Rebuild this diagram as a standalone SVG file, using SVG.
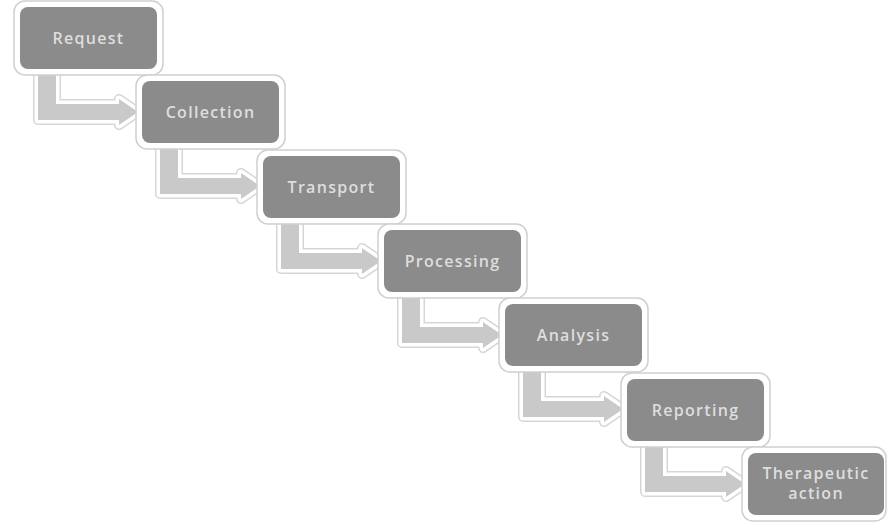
<svg xmlns="http://www.w3.org/2000/svg" xmlns:xlink="http://www.w3.org/1999/xlink" width="887" height="522" viewBox="0 0 887 522">
<style>
.halo{fill:#ffffff;stroke:#cfcfcf;stroke-width:1.5}
.box{fill:#8b8b8b}
.lbl{font-family:"Open Sans","DejaVu Sans",sans-serif;font-size:16px;font-weight:600;fill:#dedede;text-anchor:middle;letter-spacing:1.3px}
.arO{fill:none;stroke:#d6d6d6;stroke-width:10;stroke-linejoin:round}
.arW{fill:none;stroke:#ffffff;stroke-width:7;stroke-linejoin:round}
.arF{fill:#c9c9c9}
</style>
<defs>
<path id="bent" d="M18 58 L36 58 L36 97 L99 97 L99 92 L118 105 L99 118 L99 113 L18 113 Z"/>
</defs>
<rect width="887" height="522" fill="#ffffff"/>
<g id="connectors">
<g transform="translate(20,7)"><use xlink:href="#bent" class="arO"/><use xlink:href="#bent" class="arW"/><use xlink:href="#bent" class="arF"/></g>
<g transform="translate(142,81)"><use xlink:href="#bent" class="arO"/><use xlink:href="#bent" class="arW"/><use xlink:href="#bent" class="arF"/></g>
<g transform="translate(263,156)"><use xlink:href="#bent" class="arO"/><use xlink:href="#bent" class="arW"/><use xlink:href="#bent" class="arF"/></g>
<g transform="translate(384,230)"><use xlink:href="#bent" class="arO"/><use xlink:href="#bent" class="arW"/><use xlink:href="#bent" class="arF"/></g>
<g transform="translate(505,304)"><use xlink:href="#bent" class="arO"/><use xlink:href="#bent" class="arW"/><use xlink:href="#bent" class="arF"/></g>
<g transform="translate(627,379)"><use xlink:href="#bent" class="arO"/><use xlink:href="#bent" class="arW"/><use xlink:href="#bent" class="arF"/></g>
</g>
<g id="request"><rect class="halo" x="14" y="1" width="149" height="74" rx="11"/><rect class="box" x="20" y="7" width="137" height="62" rx="8"/><text class="lbl" x="88.5" y="44">Request</text></g>
<g id="collection"><rect class="halo" x="136" y="75" width="149" height="74" rx="11"/><rect class="box" x="142" y="81" width="137" height="62" rx="8"/><text class="lbl" x="210.5" y="118">Collection</text></g>
<g id="transport"><rect class="halo" x="257" y="150" width="149" height="74" rx="11"/><rect class="box" x="263" y="156" width="137" height="62" rx="8"/><text class="lbl" x="331.5" y="193">Transport</text></g>
<g id="processing"><rect class="halo" x="378" y="224" width="149" height="74" rx="11"/><rect class="box" x="384" y="230" width="137" height="62" rx="8"/><text class="lbl" x="452.5" y="267">Processing</text></g>
<g id="analysis"><rect class="halo" x="499" y="298" width="149" height="74" rx="11"/><rect class="box" x="505" y="304" width="137" height="62" rx="8"/><text class="lbl" x="573.5" y="341">Analysis</text></g>
<g id="reporting"><rect class="halo" x="621" y="373" width="149" height="74" rx="11"/><rect class="box" x="627" y="379" width="137" height="62" rx="8"/><text class="lbl" x="695.5" y="416">Reporting</text></g>
<g id="therapeutic-action"><rect class="halo" x="742" y="447" width="144" height="74" rx="11"/><rect class="box" x="748" y="453" width="136" height="62" rx="8"/><text class="lbl" x="816" y="479">Therapeutic</text><text class="lbl" x="816" y="499">action</text></g>
</svg>
